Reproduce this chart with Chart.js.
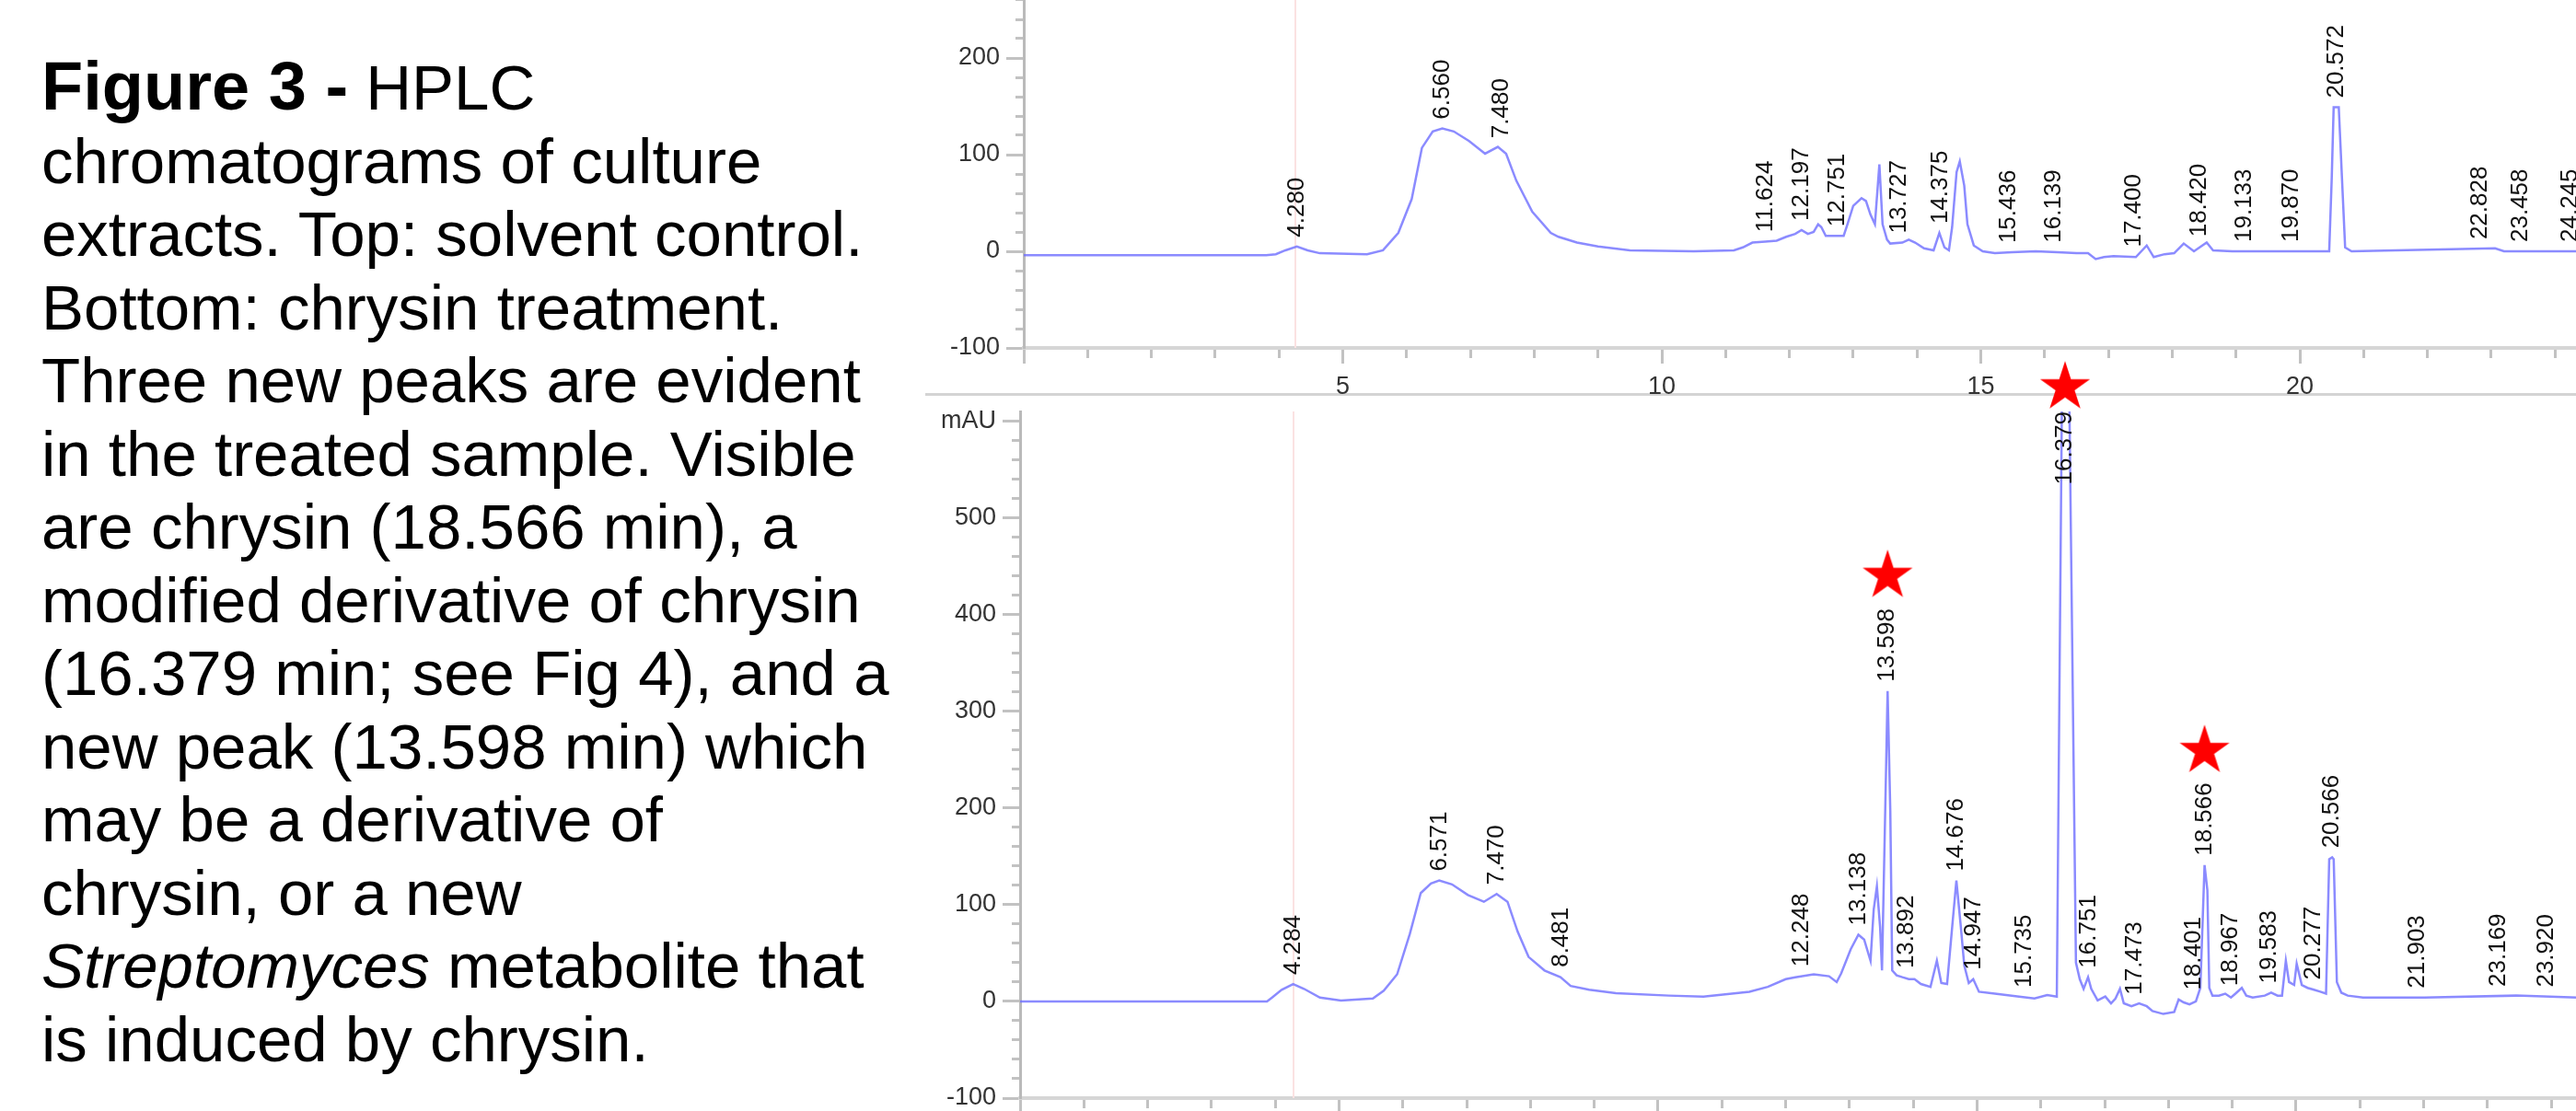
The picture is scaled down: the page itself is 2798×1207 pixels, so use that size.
<!DOCTYPE html>
<html>
<head>
<meta charset="utf-8">
<script src="https://cdn.jsdelivr.net/npm/chart.js@4.4.1/dist/chart.umd.min.js"></script>
<style>
	html, body { margin: 0; padding: 0; background: #fff; }
	body { position: relative; width: 2798px; height: 1207px; overflow: hidden; }
	#caption {
		position: absolute; left: 45px; top: 54px;
		font-family: "Liberation Sans", Arial, sans-serif;
		font-size: 69px; line-height: 79.5px; color: #000; white-space: nowrap;
	}
	#caption b { font-size: 74px; }
	#top-chart { position: absolute; left: 1000px; top: -42px; }
	#bottom-chart { position: absolute; left: 1000px; top: 382px; }
	#divider { position: absolute; left: 1005px; top: 427px; width: 1793px; height: 3px; background: #d4d4d4; }
</style>
</head>
<body>
<div id="caption"><b>Figure 3 -</b> HPLC<br>chromatograms of culture<br>extracts. Top: solvent control.<br>Bottom: chrysin treatment.<br>Three new peaks are evident<br>in the treated sample. Visible<br>are chrysin (18.566 min), a<br>modified derivative of chrysin<br>(16.379 min; see Fig 4), and a<br>new peak (13.598 min) which<br>may be a derivative of<br>chrysin, or a new<br><i>Streptomyces</i> metabolite that<br>is induced by chrysin.</div>
<div id="divider"></div>
<canvas id="top-chart" width="1900" height="480"></canvas>
<canvas id="bottom-chart" width="1900" height="871"></canvas>
<script>
// solvent control trace (min, mAU)
const controlTimes = [
	0, 3.8, 3.95, 4.1, 4.28, 4.45, 4.64, 5.38, 5.63, 5.87, 6.08, 6.24, 6.41, 6.56, 6.74, 6.98,
	7.23, 7.43, 7.56, 7.72, 7.97, 8.26, 8.38, 8.67, 9.0, 9.5, 10.5, 11.13, 11.27, 11.42, 11.62,
	11.8, 11.95, 12.09, 12.19, 12.29, 12.38, 12.45, 12.5, 12.57, 12.85, 12.91, 13.0, 13.13, 13.2,
	13.27, 13.34, 13.41, 13.46, 13.53, 13.58, 13.77, 13.87, 13.97, 14.11, 14.26, 14.35, 14.43,
	14.5, 14.55, 14.62, 14.67, 14.74, 14.79, 14.89, 15.03, 15.22, 15.49, 15.86, 16.2, 16.5, 16.68,
	16.8, 16.93, 17.08, 17.43, 17.6, 17.71, 17.88, 18.03, 18.18, 18.34, 18.54, 18.64, 18.94,
	20.46, 20.5, 20.53, 20.61, 20.66, 20.71, 20.81, 23.06, 23.2, 25.8,
];
const controlValues = [
	-4, -4, -3, 1, 5, 1, -2, -3, 1, 19, 54, 107, 124, 127, 124, 114,
	101, 108, 101, 73, 41, 19, 15, 9, 5, 1, 0, 1, 4, 9, 10,
	11, 15, 18, 22, 18, 20, 28, 25, 16, 16, 28, 47, 55, 52,
	38, 28, 90, 28, 12, 8, 9, 12, 9, 3, 1, 19, 4,
	1, 25, 82, 93, 68, 28, 6, 0, -2, -1, 0, -1, -2, -2,
	-8, -6, -5, -6, 6, -6, -3, -2, 8, 0, 9, 1, 0,
	0, 76, 149, 149, 76, 4, 0, 3, 0, 0,
];
const controlPeaks = [
	4.28, 6.56, 7.48, 11.624, 12.197, 12.751, 13.727, 14.375, 15.436, 16.139, 17.4, 18.42,
	19.133, 19.87, 20.572, 22.828, 23.458, 24.245,
];

// chrysin treatment trace (min, mAU)
const treatedTimes = [
	0, 3.87, 3.95, 4.1, 4.28, 4.45, 4.7, 5.03, 5.53, 5.7, 5.91, 6.11, 6.28, 6.44, 6.57, 6.77,
	7.02, 7.27, 7.47, 7.64, 7.8, 7.97, 8.22, 8.47, 8.63, 8.92, 9.34, 10.17, 10.71, 11.43, 11.72,
	12.0, 12.15, 12.44, 12.68, 12.8, 12.87, 13.02, 13.14, 13.23, 13.33, 13.38, 13.43, 13.48,
	13.51, 13.55, 13.598, 13.64, 13.67, 13.74, 13.83, 13.93, 14.02, 14.12, 14.27, 14.37, 14.44,
	14.53, 14.61, 14.676, 14.75, 14.8, 14.87, 14.94, 15.03, 15.28, 15.66, 15.9, 16.1, 16.25,
	16.379, 16.55, 16.61, 16.67, 16.74, 16.79, 16.89, 17.01, 17.1, 17.17, 17.24, 17.3, 17.42,
	17.54, 17.66, 17.75, 17.92, 18.09, 18.16, 18.24, 18.33, 18.43, 18.5, 18.566, 18.61, 18.64,
	18.69, 18.79, 18.89, 18.98, 19.05, 19.15, 19.22, 19.32, 19.51, 19.61, 19.71, 19.78, 19.84,
	19.89, 19.97, 20.01, 20.09, 20.18, 20.28, 20.38, 20.47, 20.52, 20.566, 20.59, 20.64, 20.71,
	20.81, 21.05, 22.01, 23.45, 24.41, 25.86,
];
const treatedValues = [
	0, 0, 4, 12, 18, 13, 4, 1, 3, 11, 28, 70, 112, 122, 125, 121,
	110, 103, 111, 103, 72, 46, 32, 25, 16, 12, 8.5, 6, 5, 10, 15,
	23, 25, 28, 26, 20, 29, 54, 69, 64, 42, 95, 119, 77,
	32, 163, 321, 197, 32, 27, 25, 23, 23, 18, 15, 42, 19,
	18, 77, 125, 74, 37, 19, 23, 10, 8, 5, 3, 6.5, 5,
	1000, 40, 23, 13, 25, 13, 1, 5, -2, 3, 13, -2, -5,
	-2, -5, -10, -13, -11, 2, -1, -3, 0, 14, 141, 115, 14,
	6, 6, 8, 4, 8, 14, 6, 4, 6, 9, 6, 6, 42,
	20, 17, 39, 17, 14, 12, 10, 8, 147, 149, 147, 20, 9,
	6, 4, 4, 6, 4, 4,
];
const treatedPeaks = [
	4.284, 6.571, 7.47, 8.481, 12.248, 13.138, 13.598, 13.892, 14.676, 14.947, 15.735, 16.379,
	16.751, 17.473, 18.401, 18.566, 18.967, 19.583, 20.277, 20.566, 21.903, 23.169, 23.92,
];

// red stars over the new peaks (min, mAU)
const starTimes = [16.379, 13.598, 18.566];
const starValues = [635, 440, 259];

// injection marker (min)
const controlMarker = 4.257;
const treatedMarker = 4.286;

const FONT = '"Liberation Sans", Arial, sans-serif';

function toPoints(xs, ys) {
	return xs.map((x, i) => ({ x: x, y: ys[i] }));
}

// highest point of the trace between t0 and t1 (linear between samples)
function localMax(xs, ys, t0, t1) {
	const at = (t) => {
		for (let i = 1; i < xs.length; i++) {
			if (t <= xs[i]) {
				const f = (t - xs[i - 1]) / (xs[i] - xs[i - 1]);
				return ys[i - 1] + f * (ys[i] - ys[i - 1]);
			}
		}
		return ys[ys.length - 1];
	};
	let best = Math.max(at(t0), at(t1));
	xs.forEach((x, i) => {
		if (x > t0 && x < t1) best = Math.max(best, ys[i]);
	});
	return best;
}

// rotated retention-time labels above the peaks
const peakLabels = {
	id: "peakLabels",
	afterDatasetsDraw(chart, args, opts) {
		const { ctx, chartArea } = chart;
		const xScale = chart.scales.x;
		const yScale = chart.scales.y;
		ctx.save();
		ctx.font = "26px " + FONT;
		ctx.fillStyle = "#111";
		ctx.textAlign = "left";
		ctx.textBaseline = "middle";
		opts.times.forEach((t) => {
			const text = t.toFixed(3);
			const w = ctx.measureText(text).width;
			const top = localMax(opts.xs, opts.ys, t - 0.04, t + 0.04);
			let base = yScale.getPixelForValue(top) - 10;
			if (base - w < chartArea.top) base = chartArea.top + w;
			ctx.save();
			ctx.translate(xScale.getPixelForValue(t), base);
			ctx.rotate(-Math.PI / 2);
			ctx.fillText(text, 0, 0);
			ctx.restore();
		});
		ctx.restore();
	},
};

function makeStar() {
	const c = document.createElement("canvas");
	c.width = 60;
	c.height = 60;
	const g = c.getContext("2d");
	g.fillStyle = "#ff0000";
	g.beginPath();
	for (let i = 0; i < 10; i++) {
		const r = i % 2 === 0 ? 28.5 : 10.9;
		const a = -Math.PI / 2 + (i * Math.PI) / 5;
		g.lineTo(30 + r * Math.cos(a), 30 + r * Math.sin(a));
	}
	g.closePath();
	g.fill();
	return c;
}

function axes(yMax, axisWidth, xMax) {
	return {
		x: {
			type: "linear",
			min: 0,
			max: xMax,
			border: { color: "#d6d6d6", width: 4 },
			grid: {
				drawOnChartArea: false,
				tickLength: 17,
				tickWidth: 3,
				tickColor: "#c2c2c2",
				tickBorderDash: (c) => (Math.round(c.tick.value) % 5 === 0 ? [] : [9, 40]),
			},
			ticks: {
				stepSize: 1,
				autoSkip: false,
				includeBounds: false,
				maxRotation: 0,
				padding: 9,
				color: "#333",
				font: { family: FONT, size: 27 },
				callback: (v) => (v > 0 && Math.round(v) % 5 === 0 ? String(Math.round(v)) : ""),
			},
			afterFit: (s) => {
				s.height = 60;
				s.paddingLeft = 0;
				s.paddingRight = 0;
			},
		},
		y: {
			type: "linear",
			min: -100,
			max: yMax,
			border: { color: "#bababa", width: 3 },
			grid: {
				drawOnChartArea: false,
				tickLength: 19,
				tickWidth: 3,
				tickColor: "#c2c2c2",
				tickBorderDash: (c) => (Math.round(c.tick.value) % 100 === 0 ? [] : [0, 10, 9, 40]),
			},
			ticks: {
				stepSize: 20,
				autoSkip: false,
				includeBounds: false,
				padding: 7,
				color: "#333",
				font: { family: FONT, size: 27 },
				callback: (v) => {
					const r = Math.round(v);
					if (r % 100 !== 0) return "";
					return r === 600 ? "mAU" : String(r);
				},
			},
			afterFit: (s) => {
				s.width = axisWidth;
				s.paddingTop = 0;
				s.paddingBottom = 0;
			},
		},
	};
}

function common(scales, padTop, labelOpts) {
	return {
		responsive: false,
		devicePixelRatio: 1,
		animation: false,
		events: [],
		layout: { autoPadding: false, padding: { top: padTop, left: 0, right: 0, bottom: 0 } },
		scales: scales,
		plugins: {
			legend: { display: false },
			tooltip: { enabled: false },
			peakLabels: labelOpts,
		},
	};
}

const traceStyle = {
	showLine: true,
	borderColor: "rgba(110, 110, 255, 0.8)",
	borderWidth: 2.5,
	pointRadius: 0,
	tension: 0,
};
const markerStyle = {
	showLine: true,
	borderColor: "#fbe2e2",
	borderWidth: 2,
	pointRadius: 0,
};

new Chart(document.getElementById("top-chart"), {
	type: "scatter",
	data: {
		datasets: [
			Object.assign({ data: toPoints(controlTimes, controlValues) }, traceStyle),
			Object.assign({ data: [{ x: controlMarker, y: -100 }, { x: controlMarker, y: 300 }] }, markerStyle),
		],
	},
	options: common(axes(300, 112, 25.8), 0, { times: controlPeaks, xs: controlTimes, ys: controlValues }),
	plugins: [peakLabels],
});

new Chart(document.getElementById("bottom-chart"), {
	type: "scatter",
	data: {
		datasets: [
			{
				data: toPoints(starTimes, starValues),
				pointStyle: makeStar(),
				pointRadius: 28,
				showLine: false,
				clip: false,
			},
			Object.assign({ data: toPoints(treatedTimes, treatedValues) }, traceStyle),
			Object.assign({ data: [{ x: treatedMarker, y: -100 }, { x: treatedMarker, y: 610 }] }, markerStyle),
		],
	},
	options: common(axes(610, 108, 25.86), 65, { times: treatedPeaks, xs: treatedTimes, ys: treatedValues }),
	plugins: [peakLabels],
});
</script>
</body>
</html>
